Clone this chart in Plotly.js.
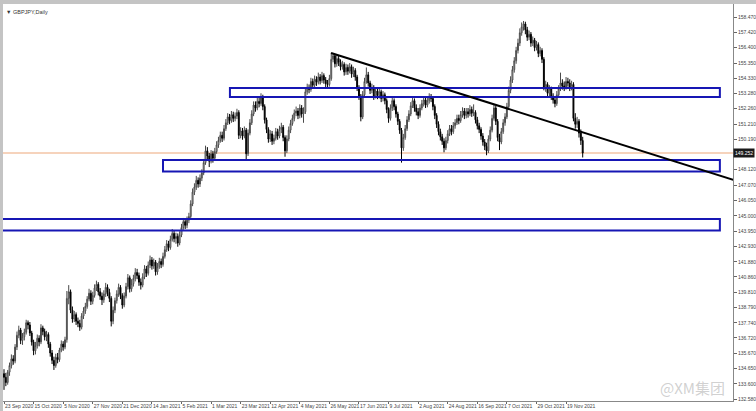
<!DOCTYPE html>
<html><head><meta charset="utf-8">
<script src="https://cdn.plot.ly/plotly-3.0.1.min.js"></script>
<style>html,body{margin:0;padding:0;background:#fff}#chart{width:756px;height:411px}</style>
</head><body><div id="chart"></div>
<script>
// ---- data ----
var chartTitle = "GBPJPY,Daily";
var dateLabels = ["23 Sep 2020","15 Oct 2020","5 Nov 2020","27 Nov 2020","21 Dec 2020","14 Jan 2021","5 Feb 2021","1 Mar 2021","23 Mar 2021","12 Apr 2021","4 May 2021","26 May 2021","17 Jun 2021","9 Jul 2021","2 Aug 2021","24 Aug 2021","16 Sep 2021","7 Oct 2021","29 Oct 2021","19 Nov 2021"];
var dateLabelBars = [0,16,32,48,64,80,96,112,128,144,160,176,192,208,224,240,256,272,288,304];
var priceTicks = [158.47,157.42,156.40,155.35,154.33,153.28,152.26,151.21,150.19,148.12,147.07,146.05,145.00,143.95,142.93,141.88,140.86,139.81,138.79,137.74,136.72,135.67,134.65,133.60,132.58];
var currentPrice = 149.252;

var open = [
134.30,134.05,133.70,134.40,134.85,135.30,135.15,136.10,136.90,137.25,
136.55,136.80,137.10,137.75,137.60,137.05,136.45,135.85,136.20,136.70,
136.45,137.40,137.15,136.80,136.95,136.30,135.70,135.20,134.85,135.40,
135.25,135.90,136.30,136.10,136.60,139.40,139.85,138.60,138.00,138.30,
137.85,137.70,137.45,138.20,138.55,138.85,139.35,139.75,139.20,139.60,
140.10,140.35,139.85,139.55,139.30,139.70,140.15,139.80,139.40,137.85,
138.60,139.25,139.70,140.15,139.60,138.95,139.55,140.20,140.80,140.05,
140.40,140.75,141.15,140.95,140.50,140.30,140.85,141.40,141.10,141.65,
142.00,141.60,141.85,141.20,141.55,141.90,141.70,142.25,142.70,143.10,
142.85,143.40,143.80,143.45,143.60,143.15,143.70,144.20,144.60,144.35,
144.70,144.95,145.80,146.60,146.95,147.40,147.15,147.55,147.90,148.60,
149.40,149.05,148.70,149.20,148.90,149.35,149.80,150.10,150.45,150.25,
150.90,151.30,151.70,151.45,151.85,151.60,151.75,152.00,150.45,150.75,
150.40,150.80,149.20,150.60,151.30,151.90,152.50,152.30,152.75,152.60,
153.00,152.40,151.50,150.85,150.20,150.55,150.05,150.25,150.70,150.40,
150.85,151.00,150.30,149.40,150.20,150.80,151.25,151.60,151.95,152.10,
151.80,152.30,151.90,152.05,153.40,153.70,153.55,154.10,153.85,154.25,
154.05,154.40,154.15,154.50,154.20,153.95,153.90,154.30,155.60,155.85,
155.30,155.65,155.40,155.10,155.25,154.75,155.05,154.80,155.10,154.60,
154.85,154.40,153.70,153.10,151.70,153.20,154.10,154.55,154.00,153.50,
153.70,153.10,153.45,153.15,153.40,152.95,153.20,152.80,152.20,151.60,
152.30,152.80,152.40,151.90,151.40,150.80,149.60,150.30,150.90,151.50,
151.90,152.45,152.80,152.30,152.05,151.80,152.30,152.60,152.85,152.50,
152.80,153.05,152.95,152.40,151.80,151.20,150.70,150.35,150.05,149.60,
150.10,150.55,150.90,150.70,151.10,151.30,151.60,151.45,151.85,152.10,
151.80,152.05,151.90,152.20,151.95,152.00,151.50,151.10,150.85,150.40,
150.00,149.70,149.40,150.20,150.80,151.60,152.30,151.40,150.30,150.00,
150.70,151.30,151.70,152.40,153.50,154.20,154.90,155.50,156.20,156.70,
157.40,157.80,158.00,157.60,157.10,157.30,156.70,156.90,156.40,156.60,
156.00,156.20,155.60,153.70,153.90,153.30,153.60,153.10,152.85,152.60,
153.20,153.60,154.00,153.80,153.70,154.10,154.00,153.70,153.90,151.60,
151.20,151.40,150.60,150.10];

var high = [
134.60,134.35,134.55,135.05,135.60,135.55,136.30,137.15,137.55,137.40,
137.05,137.35,137.95,137.90,137.80,137.20,136.60,136.45,136.95,136.90,
137.65,137.55,137.35,137.20,137.10,136.45,135.90,135.45,135.65,135.70,
136.05,136.55,136.50,136.80,139.90,140.30,140.00,138.85,138.55,138.45,
138.10,137.95,138.40,138.80,139.10,139.55,140.05,139.95,139.85,140.35,
140.60,140.50,140.10,139.80,139.95,140.45,140.35,140.05,139.55,138.85,
139.45,139.95,140.40,140.30,139.75,139.80,140.45,141.05,140.95,140.70,
141.00,141.45,141.40,141.15,140.75,141.10,141.65,141.60,141.90,142.30,
142.20,142.10,142.00,141.80,142.15,142.10,142.50,142.95,143.35,143.30,
143.65,144.10,144.00,143.85,143.80,143.95,144.45,144.85,144.80,144.95,
145.20,146.05,146.85,147.20,147.70,147.60,147.80,148.15,148.85,149.75,
149.65,149.25,149.45,149.40,149.60,150.05,150.35,150.70,150.70,151.15,
151.55,151.95,151.90,152.10,152.05,152.00,152.25,152.15,151.00,150.95,
151.05,150.95,150.85,151.55,152.15,152.75,152.75,153.00,153.05,153.30,
153.20,152.55,151.65,151.00,150.80,150.75,150.50,150.95,150.90,151.10,
151.30,151.15,150.45,150.45,151.05,151.50,151.85,152.20,152.40,152.30,
152.55,152.50,152.35,153.65,153.95,153.90,154.35,154.30,154.50,154.45,
154.70,154.60,154.75,154.65,154.40,154.20,154.55,156.05,156.00,155.95,
155.90,155.85,155.60,155.50,155.40,155.30,155.25,155.35,155.25,155.10,
155.00,154.55,153.85,153.25,153.45,154.35,155.05,154.75,154.15,153.95,
153.85,153.70,153.65,153.70,153.55,153.45,153.35,152.95,152.35,152.55,
153.05,152.95,152.55,152.05,151.55,150.95,150.55,151.15,151.75,152.15,
152.70,153.05,152.95,152.55,152.30,152.55,152.85,153.10,153.05,153.05,
153.30,153.25,153.10,152.55,151.95,151.40,150.90,150.55,150.25,150.35,
150.80,151.15,151.15,151.35,151.55,151.85,151.85,152.10,152.35,152.30,
152.30,152.30,152.50,152.40,152.55,152.15,151.70,151.30,151.00,150.60,
150.20,149.95,150.45,151.05,151.85,152.55,152.45,151.55,150.55,150.95,
151.55,151.95,152.65,153.75,154.45,155.15,155.75,156.45,157.00,157.70,
158.10,158.20,158.15,157.80,157.55,157.45,157.15,157.05,156.85,156.75,
156.45,156.35,155.75,154.15,154.05,153.85,153.75,153.30,153.05,153.45,
153.85,154.70,154.25,154.10,154.40,154.35,154.25,154.15,154.05,151.95,
151.70,151.55,150.85,150.35];

var low = [
133.20,133.45,133.55,134.15,134.65,134.90,135.00,135.90,136.70,136.30,
136.25,136.55,136.95,137.30,136.85,136.20,135.55,135.60,136.00,136.15,
136.30,136.90,136.55,136.50,136.05,135.45,134.95,134.55,134.70,135.00,
135.10,135.75,135.85,135.95,136.40,139.00,138.40,137.75,137.80,137.60,
137.45,137.20,137.30,138.00,138.35,138.70,139.20,138.95,139.00,139.45,
139.90,139.60,139.30,138.95,139.10,139.50,139.55,139.15,137.50,137.65,
138.40,139.05,139.50,139.35,138.70,138.80,139.40,140.00,139.80,139.85,
140.20,140.55,140.70,140.25,140.00,140.15,140.70,140.85,140.95,141.45,
141.35,141.40,140.95,141.00,141.40,141.45,141.55,142.10,142.55,142.60,
142.70,143.25,143.20,143.10,142.90,143.00,143.55,144.05,144.10,144.15,
144.50,144.80,145.65,146.40,146.75,146.90,146.95,147.35,147.75,148.45,
148.80,148.30,148.55,148.60,148.75,149.20,149.60,149.95,150.00,150.10,
150.75,151.15,151.20,151.30,151.35,151.40,151.55,150.20,150.25,150.15,
150.25,148.80,149.05,150.45,151.15,151.75,152.05,152.15,152.35,152.45,
152.15,151.25,150.60,149.95,150.00,149.80,149.85,150.10,150.15,150.25,
150.60,150.05,149.00,149.25,150.05,150.60,151.10,151.40,151.75,151.55,
151.60,151.65,151.30,151.90,153.20,153.30,153.40,153.60,153.70,153.80,
153.90,153.90,154.00,153.95,153.70,153.60,153.75,154.15,155.40,155.05,
155.10,155.15,154.85,154.90,154.50,154.55,154.55,154.65,154.35,154.40,
154.15,153.45,152.85,151.40,151.55,153.00,153.95,153.75,153.25,153.30,
152.85,152.95,152.90,152.95,152.70,152.75,152.55,151.95,151.30,151.45,
152.10,152.15,151.65,151.15,150.55,148.60,149.40,150.15,150.75,151.35,
151.75,152.30,152.05,151.80,151.55,151.65,152.15,152.40,152.30,152.35,
152.60,152.70,152.15,151.55,150.95,150.45,150.10,149.80,149.30,149.45,
149.90,150.40,150.45,150.55,150.90,151.15,151.20,151.30,151.65,151.55,
151.60,151.65,151.75,151.70,151.75,151.25,150.85,150.60,150.15,149.75,
149.45,149.10,149.25,150.05,150.65,151.45,151.15,150.05,149.45,149.85,
150.55,151.10,151.55,152.25,153.30,154.00,154.70,155.30,156.00,156.50,
157.20,157.55,157.30,156.85,156.90,156.45,156.50,156.15,156.20,155.75,
155.80,155.35,153.50,153.40,153.05,153.10,152.85,152.60,152.35,152.45,
153.00,153.45,153.55,153.45,153.55,153.75,153.45,153.50,151.40,150.90,
150.95,150.30,149.80,148.95];

var close = [
134.05,133.70,134.40,134.85,135.30,135.15,136.10,136.90,137.25,136.55,
136.80,137.10,137.75,137.60,137.05,136.45,135.85,136.20,136.70,136.45,
137.40,137.15,136.80,136.95,136.30,135.70,135.20,134.85,135.40,135.25,
135.90,136.30,136.10,136.60,139.40,139.85,138.60,138.00,138.30,137.85,
137.70,137.45,138.20,138.55,138.85,139.35,139.75,139.20,139.60,140.10,
140.35,139.85,139.55,139.30,139.70,140.15,139.80,139.40,137.85,138.60,
139.25,139.70,140.15,139.60,138.95,139.55,140.20,140.80,140.05,140.40,
140.75,141.15,140.95,140.50,140.30,140.85,141.40,141.10,141.65,142.00,
141.60,141.85,141.20,141.55,141.90,141.70,142.25,142.70,143.10,142.85,
143.40,143.80,143.45,143.60,143.15,143.70,144.20,144.60,144.35,144.70,
144.95,145.80,146.60,146.95,147.40,147.15,147.55,147.90,148.60,149.40,
149.05,148.70,149.20,148.90,149.35,149.80,150.10,150.45,150.25,150.90,
151.30,151.70,151.45,151.85,151.60,151.75,152.00,150.45,150.75,150.40,
150.80,149.20,150.60,151.30,151.90,152.50,152.30,152.75,152.60,153.00,
152.40,151.50,150.85,150.20,150.55,150.05,150.25,150.70,150.40,150.85,
151.00,150.30,149.40,150.20,150.80,151.25,151.60,151.95,152.10,151.80,
152.30,151.90,152.05,153.40,153.70,153.55,154.10,153.85,154.25,154.05,
154.40,154.15,154.50,154.20,153.95,153.90,154.30,155.60,155.85,155.30,
155.65,155.40,155.10,155.25,154.75,155.05,154.80,155.10,154.60,154.85,
154.40,153.70,153.10,151.70,153.20,154.10,154.55,154.00,153.50,153.70,
153.10,153.45,153.15,153.40,152.95,153.20,152.80,152.20,151.60,152.30,
152.80,152.40,151.90,151.40,150.80,149.60,150.30,150.90,151.50,151.90,
152.45,152.80,152.30,152.05,151.80,152.30,152.60,152.85,152.50,152.80,
153.05,152.95,152.40,151.80,151.20,150.70,150.35,150.05,149.60,150.10,
150.55,150.90,150.70,151.10,151.30,151.60,151.45,151.85,152.10,151.80,
152.05,151.90,152.20,151.95,152.00,151.50,151.10,150.85,150.40,150.00,
149.70,149.40,150.20,150.80,151.60,152.30,151.40,150.30,150.00,150.70,
151.30,151.70,152.40,153.50,154.20,154.90,155.50,156.20,156.70,157.40,
157.80,158.00,157.60,157.10,157.30,156.70,156.90,156.40,156.60,156.00,
156.20,155.60,153.70,153.90,153.30,153.60,153.10,152.85,152.60,153.20,
153.60,154.00,153.80,153.70,154.10,154.00,153.70,153.90,151.60,151.20,
151.40,150.60,150.10,149.25];

// drawn objects: support/resistance zones (price bottom/top, bar start/end) and trend line
var zoneBottom = [153.05, 148.00, 144.00];
var zoneTop    = [153.66, 148.78, 144.78];
var zoneStartBar = [122.2, 86.0, -1.2];
var zoneEndBar   = [387.2, 387.2, 387.2];
var trendBars   = [176.9, 394.4];
var trendPrices = [156.03, 147.44];
var watermark = "@XM集团";

// ---- build ----
var bars = close.map(function(_, i){ return i; });
var trace = {
  type: 'candlestick', x: bars, open: open, high: high, low: low, close: close,
  increasing: {line: {color: '#4a4a4a', width: 1}, fillcolor: '#ffffff'},
  decreasing: {line: {color: '#000000', width: 1}, fillcolor: '#000000'},
  whiskerwidth: 0, hoverinfo: 'skip', showlegend: false
};

var shapes = [];
// bid line
shapes.push({type:'line', xref:'paper', x0:0, x1:1, yref:'y', y0:currentPrice, y1:currentPrice,
  line:{color:'#f3c4a6', width:1.5}, layer:'below'});
zoneBottom.forEach(function(b, k){
  shapes.push({type:'rect', xref:'x', yref:'y', x0:zoneStartBar[k], x1:zoneEndBar[k], y0:b, y1:zoneTop[k],
    line:{color:'#1616b4', width:2}, fillcolor:'rgba(0,0,0,0)', layer:'above'});
});
shapes.push({type:'line', xref:'x', yref:'y', x0:trendBars[0], x1:trendBars[1], y0:trendPrices[0], y1:trendPrices[1],
  line:{color:'#000000', width:2}, layer:'above'});
// window borders
shapes.push({type:'rect', xref:'paper', yref:'paper', x0:-0.01, x1:1.04, y0:1.0, y1:1.012,
  line:{width:0}, fillcolor:'#c4c4c4'});
shapes.push({type:'rect', xref:'paper', yref:'paper', x0:-0.0045, x1:0, y0:-0.03, y1:1.01,
  line:{width:0}, fillcolor:'#c4c4c4'});

var layout = {
  width: 756, height: 411,
  margin: {l: 3, r: 23, t: 4, b: 10, pad: 0},
  paper_bgcolor: '#ffffff', plot_bgcolor: '#ffffff',
  font: {family: 'Liberation Sans, Arial, sans-serif', size: 5, color: '#444'},
  xaxis: {
    range: [-0.54, 394.3], showgrid: false, zeroline: false,
    rangeslider: {visible: false},
    tickmode: 'array', tickvals: dateLabelBars, ticktext: dateLabels,
    ticks: 'outside', ticklen: 2, tickcolor: '#666', tickwidth: 1,
    ticklabelposition: 'outside right', tickangle: 0,
    tickfont: {family: 'Liberation Sans, Arial, sans-serif', size: 5, color: '#444'},
    showline: true, linecolor: '#888', linewidth: 1, mirror: true,
    fixedrange: true
  },
  yaxis: {
    side: 'right', range: [132.445, 159.351], showgrid: false, zeroline: false,
    tickmode: 'array', tickvals: priceTicks,
    ticktext: priceTicks.map(function(v){ return v.toFixed(3); }),
    ticks: 'outside', ticklen: 3, tickcolor: '#666',
    tickfont: {family: 'Liberation Sans, Arial, sans-serif', size: 5, color: '#444'},
    showline: true, linecolor: '#888', linewidth: 1, mirror: true,
    fixedrange: true
  },
  shapes: shapes,
  annotations: [
    {xref:'paper', yref:'paper', x:0.002, y:0.992, xanchor:'left', yanchor:'top', showarrow:false,
     text:'\u25BC ' + chartTitle, font:{size:5.5, color:'#333'}},
    {xref:'paper', yref:'y', x:1, y:currentPrice, xanchor:'left', yanchor:'middle', showarrow:false,
     text: currentPrice.toFixed(3), bgcolor:'#1a1a1a', font:{size:5, color:'#ffffff'}, borderpad:1},
    {xref:'paper', yref:'paper', x:0.945, y:0.035, xanchor:'center', yanchor:'middle', showarrow:false,
     text: watermark, font:{family:'Noto Sans CJK SC, sans-serif', size:15, color:'rgba(170,170,170,0.55)'}}
  ]
};

Plotly.newPlot('chart', [trace], layout, {staticPlot: true, displayModeBar: false});
</script>
</body></html>
